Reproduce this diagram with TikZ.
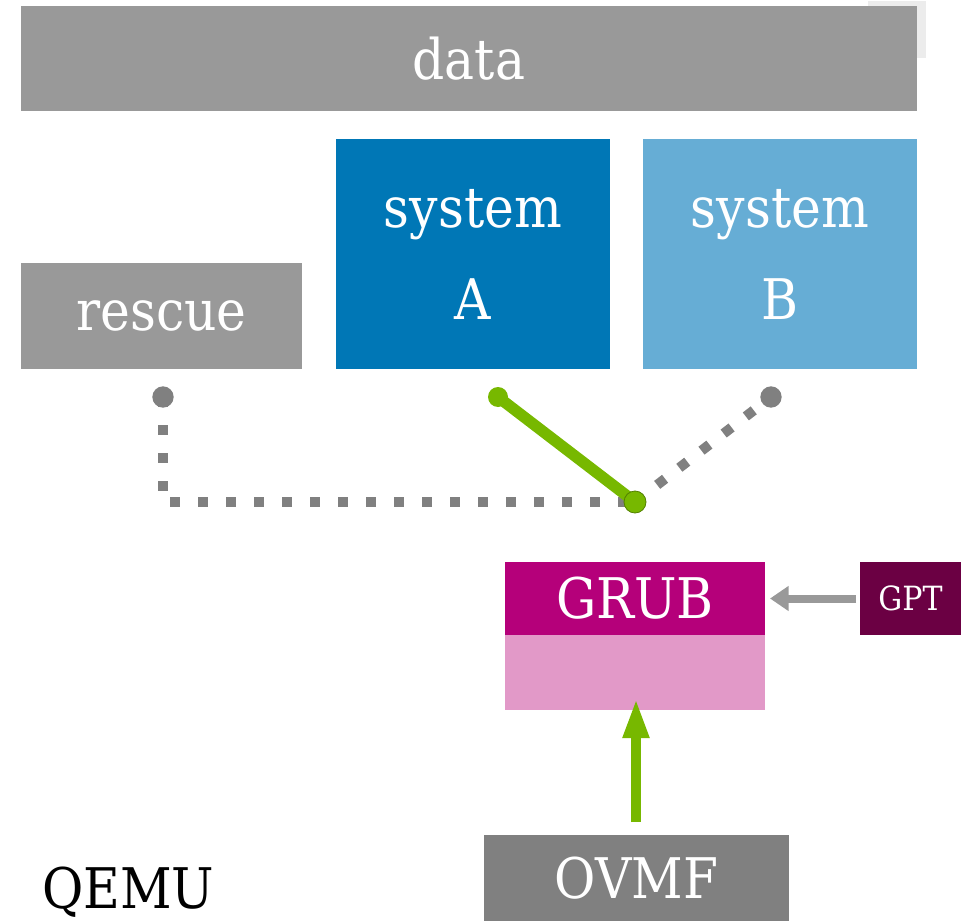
\documentclass[tikz,border=0pt]{standalone}
\usepackage{fontspec}
\setmainfont{DejaVu Serif}[FakeStretch=0.9]
\usetikzlibrary{arrows.meta,calc}
\definecolor{boxgray}{HTML}{999999}
\definecolor{darkgray}{HTML}{808080}
\definecolor{sysA}{HTML}{0077B6}
\definecolor{sysB}{HTML}{66ADD5}
\definecolor{grubtop}{HTML}{B5007A}
\definecolor{grubbot}{HTML}{E299C8}
\definecolor{gptcol}{HTML}{6B0043}
\definecolor{okgreen}{HTML}{77B800}
\definecolor{ghost}{HTML}{ECECEC}
\begin{document}
\begin{tikzpicture}[x=0.75pt,y=-0.75pt,
  blk/.style={rectangle,inner sep=0pt,outer sep=0pt,text=white,font=\fontsize{42}{50}\selectfont},
  dot/.style={circle,inner sep=0pt,minimum size=16pt},
  dots/.style={line width=7.5pt,dash pattern=on 7.5pt off 13.5pt,draw=darkgray},
  link/.style={line width=8.5pt,draw=okgreen}]
\useasboundingbox (0,0) rectangle (961,924);
\fill[ghost] (868,1) rectangle (926,58);
\node[blk,fill=boxgray,minimum width=672pt,minimum height=78.75pt] (data) at (469,58.5) {data};
\node[blk,fill=boxgray,minimum width=210.75pt,minimum height=79.5pt] (rescue) at (161.5,316) {rescue};
\node[blk,fill=sysA,minimum width=205.5pt,minimum height=172.5pt,align=center,font=\fontsize{42}{69}\selectfont] (sa) at (473,254) {system\\A};
\node[blk,fill=sysB,minimum width=205.5pt,minimum height=172.5pt,align=center,font=\fontsize{42}{69}\selectfont] (sb) at (780,254) {system\\B};
\node[blk,fill=grubtop,minimum width=195pt,minimum height=54.75pt] (grub) at (635,598.5) {GRUB};
\node[blk,fill=grubbot,minimum width=195pt,minimum height=56.25pt] (grubb) at (635,672.5) {};
\node[blk,fill=gptcol,minimum width=75.75pt,minimum height=54.75pt,font=\fontsize{25}{30}\selectfont] (gpt) at (910.5,598.5) {GPT};
\node[blk,fill=darkgray,minimum width=228.75pt,minimum height=64.5pt] (ovmf) at (636.5,878) {OVMF};
\node[anchor=base west,inner sep=0pt,font=\fontsize{42}{50}\selectfont] (qemu) at (42,908) {QEMU};
% connection points
\coordinate (r) at (163,397);
\coordinate (a) at (498,397);
\coordinate (b) at (771,397);
\coordinate (j) at (635,502);
\draw[dots] (r) -- (r |- j) -- (j);
\draw[dots] (j) -- (b);
\draw[link] (a) -- (j);
\node[dot,fill=darkgray] (rd) at (r) {};
\node[dot,fill=darkgray] (bd) at (b) {};
\node[dot,fill=okgreen,minimum size=15pt] (ad) at (a) {};
\node[dot,fill=okgreen,draw=okgreen!70!black,line width=0.6pt,minimum size=16.5pt] (jd) at (j) {};
% arrows
\draw[draw=boxgray,line width=6pt,-{Triangle[length=14pt,width=18pt]}] (gpt.west) ++(-4,0) -- ($(grub.east)+(5,0)$);
\draw[draw=okgreen,line width=7.5pt,-{Triangle[length=30pt,width=18pt]}] ($(ovmf.north)+(-0.5,-13)$) -- ($(grubb.south)+(1,-12)$);
\end{tikzpicture}
\end{document}
